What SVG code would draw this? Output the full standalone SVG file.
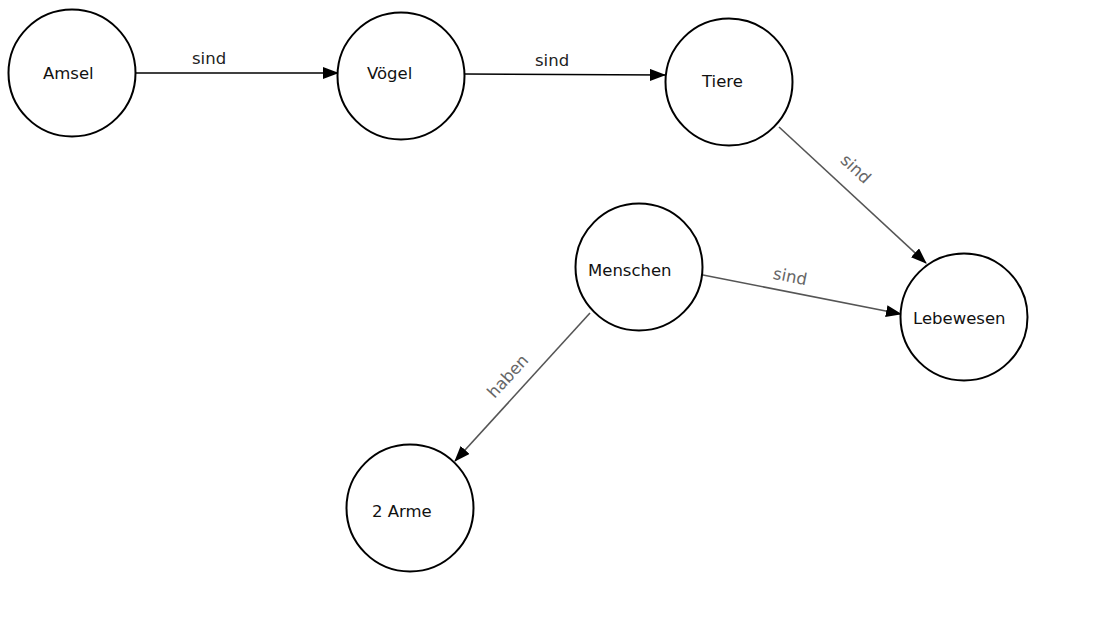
<svg xmlns="http://www.w3.org/2000/svg" width="1117" height="625" viewBox="0 0 1117 625">
<defs>
<style>
.node{fill:#fff;stroke:#000;stroke-width:2}
.lbl{font-family:"DejaVu Sans",sans-serif;font-size:16.5px;fill:#111}
.edge{stroke:#000;stroke-width:1.6;fill:none}
.edge2{stroke:#555;stroke-width:1.6;fill:none}
.elbl{font-family:"DejaVu Sans",sans-serif;font-size:16.5px;fill:#222}
.elbl2{font-family:"DejaVu Sans",sans-serif;font-size:16.5px;fill:#666;text-anchor:middle}
</style>
<marker id="arr" markerWidth="16" markerHeight="12" refX="15" refY="6" orient="auto" markerUnits="userSpaceOnUse">
<path d="M0,0 L16,6 L0,12 Z" fill="#000"/>
</marker>
</defs>
<rect width="1117" height="625" fill="#fff"/>
<g id="connectors">
<line class="edge" x1="136" y1="73" x2="338" y2="73" marker-end="url(#arr)"/>
<text class="elbl" x="192" y="64">sind</text>
<line class="edge" x1="465" y1="74" x2="665" y2="75" marker-end="url(#arr)"/>
<text class="elbl" x="535" y="66">sind</text>
<line class="edge2" x1="779" y1="127" x2="926" y2="263" marker-end="url(#arr)"/>
<text class="elbl2" transform="translate(852,173) rotate(42.8)">sind</text>
<line class="edge2" x1="703" y1="275" x2="901" y2="314" marker-end="url(#arr)"/>
<text class="elbl2" transform="translate(789,282) rotate(11.2)">sind</text>
<line class="edge2" x1="590" y1="313" x2="455" y2="461" marker-end="url(#arr)"/>
<text class="elbl2" transform="translate(512,380) rotate(-47.6)">haben</text>
</g>
<g id="n-amsel"><circle class="node" cx="72" cy="73" r="63.5"/><text class="lbl" x="43" y="79">Amsel</text></g>
<g id="n-voegel"><circle class="node" cx="401" cy="76" r="63.5"/><text class="lbl" x="367" y="79">Vögel</text></g>
<g id="n-tiere"><circle class="node" cx="729" cy="82" r="63.5"/><text class="lbl" x="702" y="87">Tiere</text></g>
<g id="n-menschen"><circle class="node" cx="639" cy="267" r="63.5"/><text class="lbl" x="588" y="276">Menschen</text></g>
<g id="n-lebewesen"><circle class="node" cx="964" cy="317" r="63.5"/><text class="lbl" x="913" y="324">Lebewesen</text></g>
<g id="n-arme"><circle class="node" cx="410" cy="508" r="63.5"/><text class="lbl" x="372" y="517">2 Arme</text></g>
</svg>
